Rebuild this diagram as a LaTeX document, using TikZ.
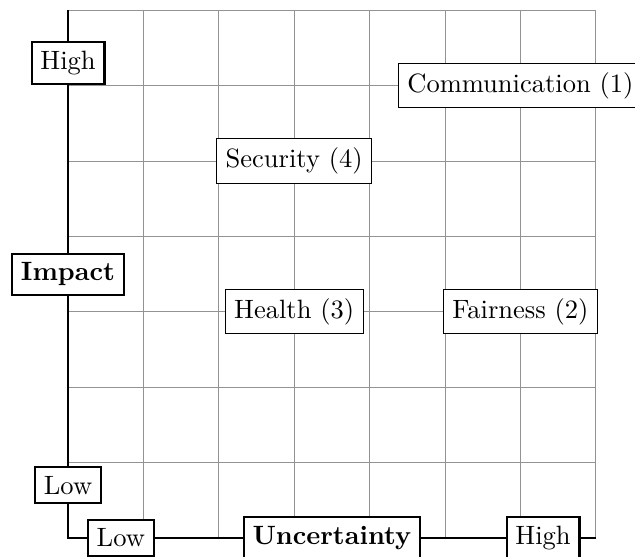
\documentclass[tikz,border=0pt]{standalone}
\begin{document}
\begin{tikzpicture}[
  axislabel/.style={draw, thick, fill=white},
  axistitle/.style={axislabel, font=\bfseries},
  topic/.style={draw, fill=white},
  gridline/.style={gray!85, line width=0.3pt},
]
\useasboundingbox (-0.902,-0.239) rectangle (7.52,7.135);
% background grid of the matrix
\draw[gridline] (0,0) grid (7,7);
% axes with their labels
\coordinate (origin) at (0,0);
\coordinate (ytop) at (0,7);
\coordinate (xend) at (7,0);
\draw[thick] (ytop) -- (origin) -- (xend);
\path (origin) -- (ytop)
  node[axislabel, pos=0.1] (ylow) {Low}
  node[axistitle, pos=0.5] (ytitle) {Impact}
  node[axislabel, pos=0.9] (yhigh) {High};
\path (origin) -- (xend)
  node[axislabel, pos=0.1] (xlow) {Low}
  node[axistitle, pos=0.5] (xtitle) {Uncertainty}
  node[axislabel, pos=0.9] (xhigh) {High};
% topics
\node[topic] (comm) at (6,6) {Communication (1)};
\node[topic] (fair) at (6,3) {Fairness (2)};
\node[topic] (health) at (3,3) {Health (3)};
\node[topic] (sec) at (3,5) {Security (4)};
\end{tikzpicture}
\end{document}
